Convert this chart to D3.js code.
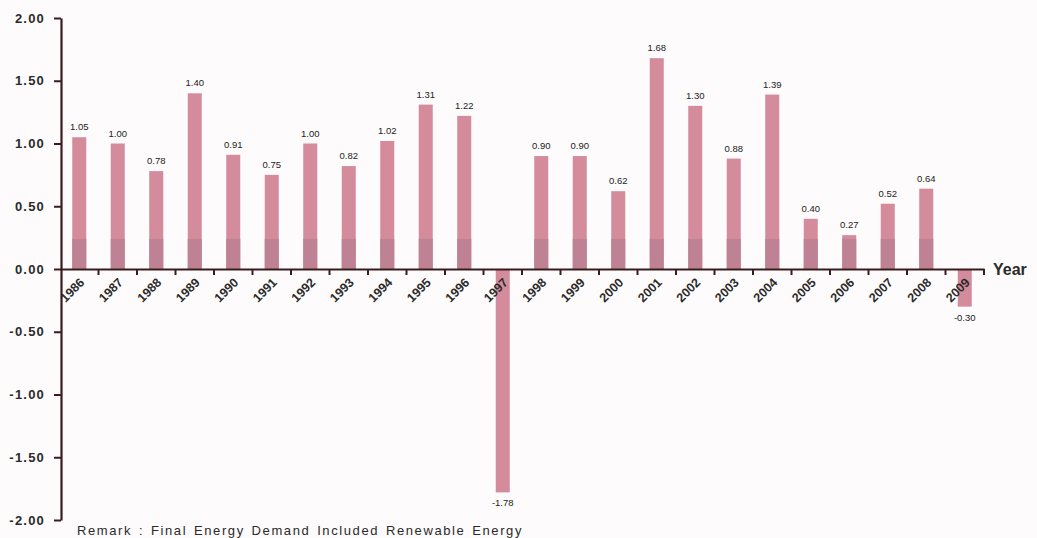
<!DOCTYPE html>
<html><head><meta charset="utf-8">
<script src="https://cdn.jsdelivr.net/npm/d3@7"></script>
<style>
html,body{margin:0;padding:0;background:#fdfbfb;}
svg{display:block;font-family:"Liberation Sans",Arial,sans-serif;}
</style></head>
<body><svg id="c" width="1037" height="538"></svg>
<script>
const years = ["1986","1987","1988","1989","1990","1991","1992","1993","1994","1995","1996","1997","1998","1999","2000","2001","2002","2003","2004","2005","2006","2007","2008","2009"];
const values = [1.05,1.00,0.78,1.40,0.91,0.75,1.00,0.82,1.02,1.31,1.22,-1.78,0.90,0.90,0.62,1.68,1.30,0.88,1.39,0.40,0.27,0.52,0.64,-0.30];
const yTicks = [2.00,1.50,1.00,0.50,0.00,-0.50,-1.00,-1.50,-2.00];
const remark = "Remark : Final Energy Demand Included Renewable Energy";
const xTitle = "Year";

const svg = d3.select("#c");
const axisColor = "#3a1c1f";
const y = d3.scaleLinear().domain([-2,2]).range([520,18]);
const x = d3.scaleBand().domain(years).range([60,984]).paddingInner(0.636).paddingOuter(0.318);

// bars
const bars = svg.append("g");
years.forEach((yr,i)=>{
  const v = values[i];
  const x0 = x(yr), w = x.bandwidth();
  const top = y(Math.max(0,v)), bot = y(Math.min(0,v));
  bars.append("rect").attr("x",x0).attr("y",top).attr("width",w).attr("height",bot-top).attr("fill","#d48c9d");
  if (v>0) {
    const dTop = Math.max(top, y(0.24));
    bars.append("rect").attr("x",x0).attr("y",dTop).attr("width",w).attr("height",y(0)-dTop).attr("fill","#bf8294");
  }
});

// value labels
svg.append("g").selectAll("text").data(years).join("text")
  .attr("x",d=>x(d)+x.bandwidth()/2)
  .attr("y",(d,i)=>values[i]>=0 ? y(values[i])-7 : y(values[i])+14)
  .attr("text-anchor","middle")
  .attr("font-size",9.5).attr("fill","#222")
  .text((d,i)=>values[i].toFixed(2));

// y axis
const yAxis = d3.axisLeft(y).tickValues(yTicks).tickFormat(d=>d.toFixed(2)).tickSize(7).tickSizeOuter(0);
const gy = svg.append("g").attr("transform","translate(61,0)").call(yAxis);
gy.select(".domain").attr("stroke",axisColor).attr("stroke-width",2.2);
gy.selectAll(".tick line").attr("stroke",axisColor).attr("stroke-width",2);
gy.selectAll(".tick text").attr("font-size",13).attr("font-weight","bold").attr("fill","#2a2a2a")
  .attr("letter-spacing",1.2).attr("x",-16);

// x axis at zero
const xAxis = d3.axisBottom(x).tickSize(0).tickSizeOuter(0);
const gx = svg.append("g").attr("transform",`translate(0,${y(0)})`).call(xAxis);
gx.select(".domain").attr("stroke",axisColor).attr("stroke-width",2.2);
gx.selectAll(".tick text")
  .attr("font-size",12.5).attr("font-weight","bold").attr("fill","#2a2a2a")
  .attr("text-anchor","middle")
  .attr("transform","translate(-7,21) rotate(-45)")
  .attr("y",0).attr("dy","0.35em");
// boundary ticks between bands
const edges = years.map(d=>x(d)-x.step()*x.paddingInner()/2).slice(1).concat([984]);
gx.append("g").selectAll("line").data(edges).join("line")
  .attr("x1",d=>d).attr("x2",d=>d).attr("y1",0).attr("y2",6)
  .attr("stroke",axisColor).attr("stroke-width",2);

svg.append("text").attr("x",993).attr("y",y(0)+6).attr("font-size",16).attr("font-weight","bold").attr("fill","#2a2a2a").text(xTitle);

const rt = svg.append("text").attr("x",77).attr("y",535).attr("font-size",13).attr("fill","#2a2a2a")
  .attr("letter-spacing",1.6).text(remark);
const natural = rt.node().getComputedTextLength();
const gaps = remark.split(" ").length - 1;
rt.attr("word-spacing", Math.max(0,(446-natural)/gaps));
</script></body></html>
